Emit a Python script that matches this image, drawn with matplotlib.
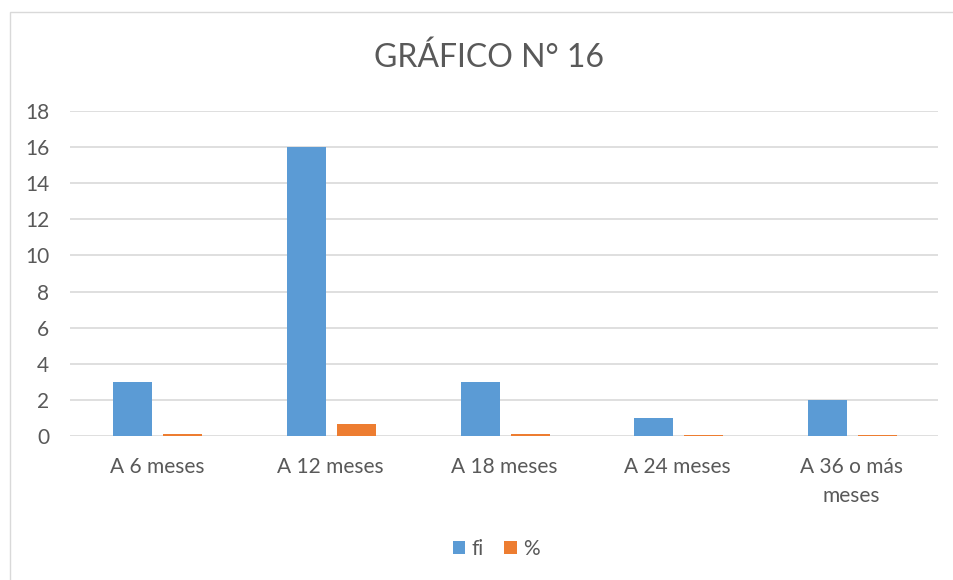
import matplotlib
matplotlib.use('Agg')
import matplotlib.pyplot as plt
import matplotlib.patches as mpatches
import numpy as np

plt.rcParams['font.family'] = ['Lato', 'DejaVu Sans']

categorias = ['A 6 meses', 'A 12 meses', 'A 18 meses', 'A 24 meses', 'A 36 o más\nmeses']
fi = [3, 16, 3, 1, 2]
pct = [0.12, 0.64, 0.12, 0.04, 0.08]

gris = '#595959'
azul = '#5B9BD5'
naranja = '#ED7D31'

fig = plt.figure(figsize=(9.54, 5.8), dpi=100)
ax = fig.add_axes([70/954, 1-436/580, (938-70)/954, (436-111)/580])

x = np.arange(len(categorias))
w = 0.225
ax.bar(x - 0.138, fi, w, color=azul, label='fi', zorder=3)
ax.bar(x + 0.150, pct, w, color=naranja, label='%', zorder=3)

ax.set_xlim(-0.5, len(categorias) - 0.5)
ax.set_ylim(0, 18)
ax.set_yticks(range(0, 19, 2))
ax.set_xticks(x)
ax.set_xticklabels(categorias, linespacing=1.6)
ax.grid(axis='y', color='#D9D9D9', linewidth=1.2, zorder=0)
for s in ax.spines.values():
    s.set_visible(False)
ax.tick_params(axis='both', length=0, colors=gris, labelsize=15)
ax.tick_params(axis='x', pad=15)
ax.tick_params(axis='y', pad=15)

fig.text(0.513, 1-58/580, 'GRÁFICO N° 16', ha='center', va='center', fontsize=23, color=gris)

fig.legend(loc='center', bbox_to_anchor=(0.52, 1-549/580), ncol=2, frameon=False,
           handlelength=0.6, handleheight=0.6, handletextpad=0.3, columnspacing=1.0,
           fontsize=15, labelcolor=gris)

borde = mpatches.Rectangle((10/954, -0.01), 1, 1-12/580 + 0.01, transform=fig.transFigure,
                           fill=False, edgecolor='#D9D9D9', linewidth=1)
fig.patches.append(borde)

fig.savefig('out.png', dpi=100)
